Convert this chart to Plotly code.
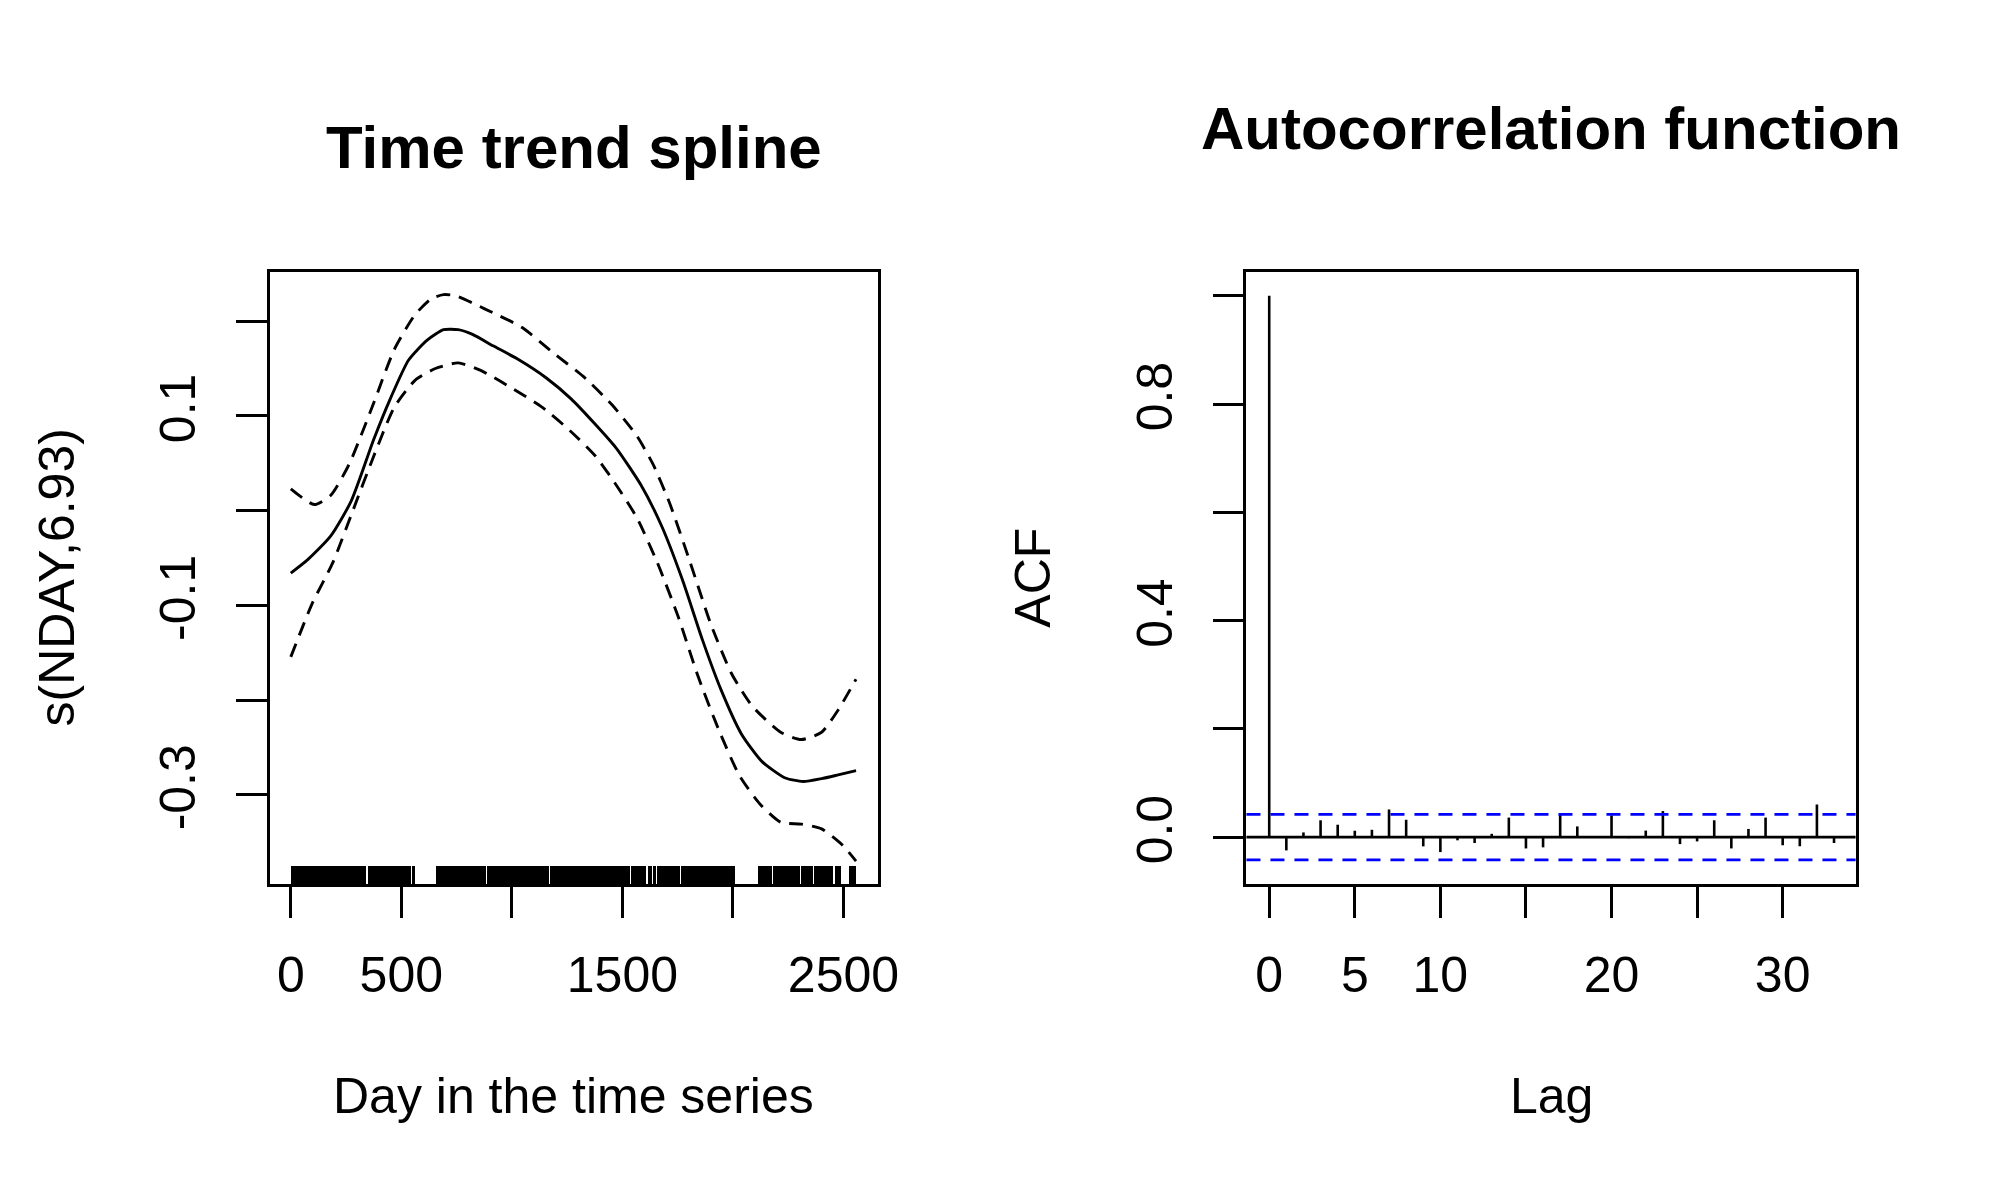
import plotly.graph_objects as go

# ---- left panel: time trend spline s(NDAY,6.93) with +/- 2 SE bands ----
fit_day = [0, 78, 180, 273, 375, 450, 533, 617, 691, 757, 822, 915, 1026, 1156, 1268,
           1370, 1472, 1584, 1677, 1770, 1863, 1946, 2039, 2132, 2234, 2318, 2401, 2476, 2557]
fit_val = [-0.066, -0.0515, -0.027, 0.010, 0.075, 0.118, 0.159, 0.180, 0.191, 0.191, 0.186,
           0.174, 0.160, 0.140, 0.118, 0.093, 0.066, 0.027, -0.016, -0.072, -0.137, -0.189,
           -0.236, -0.265, -0.282, -0.286, -0.283, -0.279, -0.2745]

upper_day = [0, 106, 180, 264, 375, 468, 561, 636, 691, 747, 877, 1045, 1193, 1323, 1454,
             1565, 1639, 1714, 1807, 1900, 1993, 2086, 2216, 2309, 2401, 2476, 2557]
upper_val = [0.023, 0.0064, 0.016, 0.049, 0.1136, 0.170, 0.2065, 0.2238, 0.228, 0.2268, 0.213,
             0.1935, 0.1654, 0.1417, 0.1114, 0.079, 0.0487, 0.0077, -0.0549, -0.1198, -0.1717,
             -0.206, -0.234, -0.2417, -0.234, -0.2105, -0.178]

lower_day = [0, 97, 190, 283, 375, 468, 561, 654, 757, 859, 989, 1138, 1268, 1379, 1472,
             1565, 1658, 1751, 1844, 1937, 2030, 2123, 2216, 2309, 2401, 2495, 2557]
lower_val = [-0.1544, -0.098, -0.055, 0.0013, 0.0574, 0.109, 0.1373, 0.150, 0.156, 0.148,
             0.1309, 0.109, 0.0833, 0.0574, 0.0271, -0.0073, -0.0549, -0.111, -0.176, -0.232,
             -0.28, -0.31, -0.329, -0.331, -0.336, -0.353, -0.370]

# rug of observed days (runs of consecutive days)
rug_start = [0, 346, 537, 550, 655, 887, 1171, 1537, 1612, 1639, 1657, 1764, 2112, 2179,
             2306, 2366, 2458, 2522]
rug_end = [340, 531, 544, 558, 881, 1165, 1531, 1606, 1633, 1651, 1758, 2006, 2173, 2300,
           2360, 2452, 2486, 2557]

x1_ticks = [0, 500, 1000, 1500, 2000, 2500]
x1_text = ["0", "500", "", "1500", "", "2500"]
y1_ticks = [-0.3, -0.2, -0.1, 0.0, 0.1, 0.2]
y1_text = ["-0.3", "", "-0.1", "", "0.1", ""]

# ---- right panel: autocorrelation of residuals ----
acf_lag = list(range(34))
acf_val = [1.0, -0.0246, 0.0086, 0.031, 0.0228, 0.0117, 0.0135, 0.051, 0.032, -0.0172,
           -0.0277, -0.006, -0.011, 0.006, 0.036, -0.021, -0.019, 0.041, 0.0197, 0.002,
           0.040, -0.002, 0.012, 0.048, -0.013, -0.008, 0.031, -0.021, 0.015, 0.036,
           -0.015, -0.017, 0.060, -0.011]
acf_ci = 0.042

x2_ticks = [0, 5, 10, 15, 20, 25, 30]
x2_text = ["0", "5", "10", "", "20", "", "30"]
y2_ticks = [0.0, 0.2, 0.4, 0.6, 0.8, 1.0]
y2_text = ["0.0", "", "0.4", "", "0.8", ""]

FONT = "Liberation Sans, Arial, sans-serif"
y1_range = [-0.3942, 0.2519]

fig = go.Figure()

# rug
rug_h = 0.03 * (y1_range[1] - y1_range[0])
fig.add_trace(go.Bar(
    x=[(s + e) / 2 for s, e in zip(rug_start, rug_end)],
    width=[max(e - s, 3) for s, e in zip(rug_start, rug_end)],
    y=[rug_h] * len(rug_start),
    base=[y1_range[0]] * len(rug_start),
    marker=dict(color="black", line=dict(width=0)),
    xaxis="x", yaxis="y", hoverinfo="skip",
))

fig.add_trace(go.Scatter(x=fit_day, y=fit_val, mode="lines",
                         line=dict(color="black", width=2.9, shape="spline", smoothing=0.6),
                         xaxis="x", yaxis="y"))
fig.add_trace(go.Scatter(x=upper_day, y=upper_val, mode="lines",
                         line=dict(color="black", width=2.9, dash="14px,9px", shape="spline", smoothing=0.6),
                         xaxis="x", yaxis="y"))
fig.add_trace(go.Scatter(x=lower_day, y=lower_val, mode="lines",
                         line=dict(color="black", width=2.9, dash="14px,9px", shape="spline", smoothing=0.6),
                         xaxis="x", yaxis="y"))

# acf spikes
sx, sy = [], []
for lag, v in zip(acf_lag, acf_val):
    sx += [lag, lag, None]
    sy += [0, v, None]
fig.add_trace(go.Scatter(x=sx, y=sy, mode="lines", line=dict(color="black", width=2.6),
                         xaxis="x2", yaxis="y2"))

# abline h=0 and confidence bounds
fig.add_shape(type="line", xref="x2 domain", yref="y2", x0=0, x1=1, y0=0, y1=0,
              line=dict(color="black", width=2.7))
for c in (acf_ci, -acf_ci):
    fig.add_shape(type="line", xref="x2 domain", yref="y2", x0=0, x1=1, y0=c, y1=c,
                  line=dict(color="#0000ff", width=2.8, dash="14px,10px"))

axis_common = dict(showline=True, mirror=True, linecolor="black", linewidth=2.8,
                   ticks="outside", ticklen=31, tickwidth=2.7, tickcolor="black",
                   showgrid=False, zeroline=False, tickmode="array",
                   tickfont=dict(family=FONT, size=50, color="black"))

fig.update_layout(
    width=2000, height=1200,
    margin=dict(l=0, r=0, t=0, b=0),
    paper_bgcolor="white", plot_bgcolor="white",
    showlegend=False, barmode="overlay", bargap=0,
    xaxis=dict(domain=[0.1322, 0.4395], range=[-95.8, 2655.3], anchor="y",
               tickvals=x1_ticks, ticktext=x1_text, ticklabelstandoff=14, **axis_common),
    yaxis=dict(domain=[0.27, 0.78], range=y1_range, anchor="x",
               tickvals=y1_ticks, ticktext=y1_text, tickangle=-90, ticklabelstandoff=21, **axis_common),
    xaxis2=dict(domain=[0.6258, 0.9336], range=[-1.33, 34.26], anchor="y2",
                tickvals=x2_ticks, ticktext=x2_text, ticklabelstandoff=14, **axis_common),
    yaxis2=dict(domain=[0.27, 0.78], range=[-0.0867, 1.044], anchor="x2",
                tickvals=y2_ticks, ticktext=y2_text, tickangle=-90, ticklabelstandoff=21, **axis_common),
)

def note(text, x, y, size=50, bold=False, angle=0):
    fig.add_annotation(text=f"<b>{text}</b>" if bold else text, x=x, y=y, xref="paper", yref="paper",
                       xanchor="center", yanchor="middle", showarrow=False, textangle=angle,
                       font=dict(family=FONT, size=size, color="black"))

note("Time trend spline", 0.2859, 0.8835, size=60, bold=True)
note("Autocorrelation function", 0.7797, 0.8992, size=60, bold=True)
note("Day in the time series", 0.2859, 0.0937)
note("Lag", 0.7797, 0.0937)
note("s(NDAY,6.93)", 0.0247, 0.5254, angle=-90)
note("ACF", 0.5175, 0.5254, angle=-90)

fig.write_html("out.html")
